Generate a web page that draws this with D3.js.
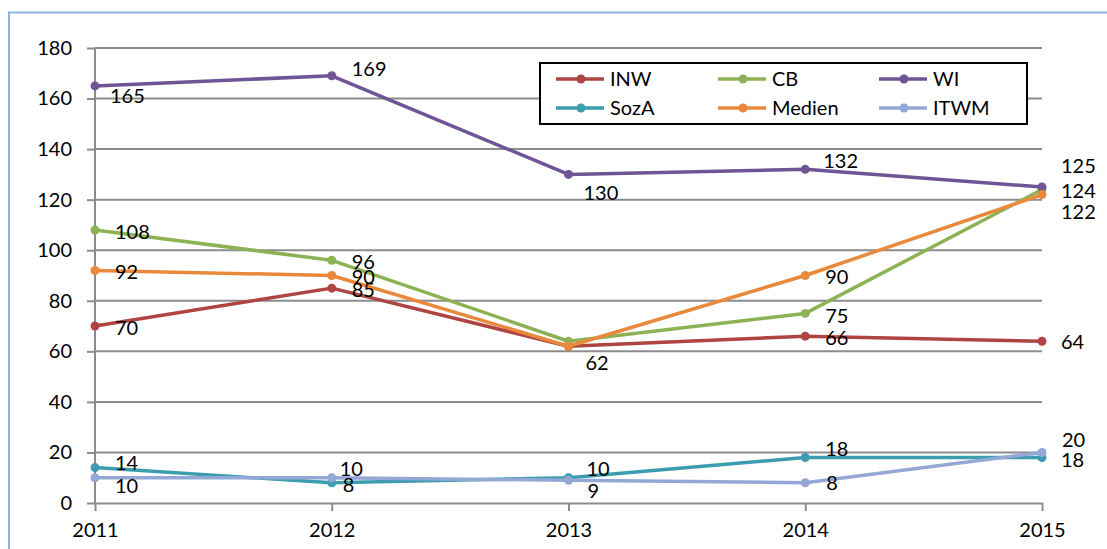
<!DOCTYPE html>
<html>
<head>
<meta charset="utf-8">
<script src="https://cdn.jsdelivr.net/npm/d3@7"></script>
<style>
  html, body { margin: 0; padding: 0; background: #fff; }
  svg { display: block; font-family: Lato, "Open Sans", sans-serif; }
</style>
</head>
<body>
<svg id="chart" width="1107" height="549"></svg>
<script>
// ---- data ----
const years = ["2011", "2012", "2013", "2014", "2015"];
const seriesNames = ["INW", "CB", "WI", "SozA", "Medien", "ITWM"];
const INW    = [70, 85, 62, 66, 64];
const CB     = [108, 96, 64, 75, 124];
const WI     = [165, 169, 130, 132, 125];
const SozA   = [14, 8, 10, 18, 18];
const Medien = [92, 90, 62, 90, 122];
const ITWM   = [10, 10, 9, 8, 20];
const yTicks = [0, 20, 40, 60, 80, 100, 120, 140, 160, 180];
// which data labels are shown (2013 labels of INW/CB coincide with / are hidden behind Medien's "62")
const labelShown = {
  INW: [1,1,0,1,1], CB: [1,1,0,1,1], WI: [1,1,1,1,1],
  SozA: [1,1,1,1,1], Medien: [1,1,1,1,1], ITWM: [1,1,1,1,1]
};

// ---- layout / style ----
const colors = {
  INW: "#AE4542", CB: "#8DB255", WI: "#6F5596",
  SozA: "#3C9CB0", Medien: "#E9893C", ITWM: "#93A8D6"
};
// label offsets [dx, dy] relative to the point (left edge, vertical centre)
const labelOffsets = {
  INW:    [[20,2],[20,2],[17,17],[20,2],[19,1]],
  CB:     [[20,2],[20,1],[20,0],[20,2],[19,1]],
  WI:     [[15,10],[20,-7],[15,18],[18,-9],[19,-21]],
  SozA:   [[20,-5],[11,2],[18,-9],[20,-9],[19,2]],
  Medien: [[20,1],[20,1],[17,17],[20,1],[19,17]],
  ITWM:   [[20,8],[8,-9],[19,11],[21,0],[20,-13]]
};
const dataBy = { INW, CB, WI, SozA, Medien, ITWM };

const svg = d3.select("#chart");
const mLeft = 95, mRight = 1042, mTop = 48, mBottom = 503;

// outer chart border (light blue, top & left visible)
svg.append("rect")
  .attr("x", 9).attr("y", 12.5)
  .attr("width", 1200).attr("height", 700)
  .attr("fill", "none").attr("stroke", "#8DB4E2").attr("stroke-width", 2);

const x = d3.scalePoint().domain(years).range([mLeft, mRight]);
const y = d3.scaleLinear().domain([0, 180]).range([mBottom, mTop]);

// gridlines + y axis
const yAxis = d3.axisLeft(y).tickValues(yTicks).tickSize(8).tickPadding(15);
const gy = svg.append("g").attr("transform", `translate(${mLeft},0)`).call(yAxis);
gy.select(".domain").remove();
gy.selectAll(".tick line").attr("stroke", "#8C8C8C").attr("stroke-width", 2);
gy.selectAll(".tick text").attr("font-size", 20).attr("fill", "#000")
  .attr("font-family", "Lato, 'Open Sans', sans-serif");

svg.append("g").selectAll("line").data(yTicks.slice(1)).join("line")
  .attr("x1", mLeft).attr("x2", mRight)
  .attr("y1", d => y(d)).attr("y2", d => y(d))
  .attr("stroke", "#8C8C8C").attr("stroke-width", 2);

// x axis
const xAxis = d3.axisBottom(x).tickSize(8).tickSizeOuter(0).tickPadding(12);
const gx = svg.append("g").attr("transform", `translate(0,${mBottom})`).call(xAxis);
gx.select(".domain").attr("stroke", "#8C8C8C").attr("stroke-width", 2);
gx.selectAll(".tick line").attr("stroke", "#8C8C8C").attr("stroke-width", 2);
gx.selectAll(".tick text").attr("font-size", 20).attr("fill", "#000")
  .attr("font-family", "Lato, 'Open Sans', sans-serif");

// vertical axis line
svg.append("line").attr("x1", mLeft).attr("x2", mLeft)
  .attr("y1", mTop).attr("y2", mBottom)
  .attr("stroke", "#8C8C8C").attr("stroke-width", 2);

// series lines and markers
const line = d3.line().x((d, i) => x(years[i])).y(d => y(d));
seriesNames.forEach(name => {
  const vals = dataBy[name];
  const g = svg.append("g");
  g.append("path").datum(vals).attr("d", line)
    .attr("fill", "none").attr("stroke", colors[name])
    .attr("stroke-width", 3.5).attr("stroke-linejoin", "round");
  g.selectAll("circle").data(vals).join("circle")
    .attr("cx", (d, i) => x(years[i])).attr("cy", d => y(d))
    .attr("r", 4.5).attr("fill", colors[name]);
});

// data labels
seriesNames.forEach(name => {
  const vals = dataBy[name];
  svg.append("g").selectAll("text").data(vals).join("text")
    .attr("display", (d, i) => labelShown[name][i] ? null : "none")
    .attr("x", (d, i) => x(years[i]) + labelOffsets[name][i][0])
    .attr("y", (d, i) => y(d) + labelOffsets[name][i][1])
    .attr("dy", "0.36em")
    .attr("font-size", 20).attr("fill", "#000")
    .text(d => d);
});

// legend
const lg = svg.append("g");
lg.append("rect").attr("x", 540).attr("y", 63).attr("width", 487).attr("height", 61)
  .attr("fill", "#fff").attr("stroke", "#000").attr("stroke-width", 2);
const colX = [556, 718, 879];
const rowY = [79, 108];
seriesNames.forEach((name, i) => {
  const cx = colX[i % 3], cy = rowY[Math.floor(i / 3)];
  lg.append("line").attr("x1", cx).attr("x2", cx + 48)
    .attr("y1", cy).attr("y2", cy)
    .attr("stroke", colors[name]).attr("stroke-width", 3.5);
  lg.append("circle").attr("cx", cx + 25).attr("cy", cy).attr("r", 4.5)
    .attr("fill", colors[name]);
  lg.append("text").attr("x", cx + 54).attr("y", cy).attr("dy", "0.36em")
    .attr("font-size", 20).attr("fill", "#000").text(name);
});
</script>
</body>
</html>
